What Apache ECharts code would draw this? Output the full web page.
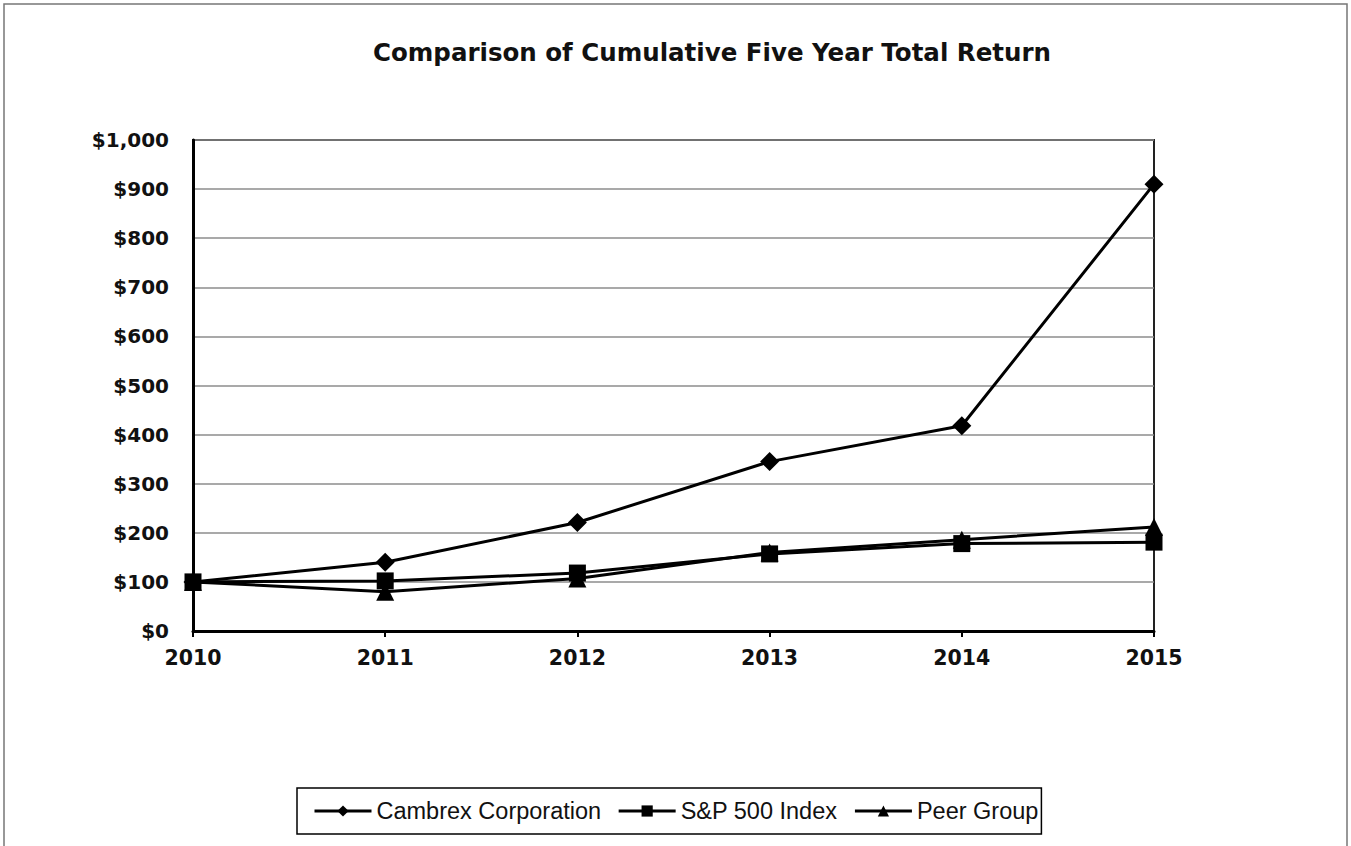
<!DOCTYPE html>
<html>
<head>
<meta charset="utf-8">
<script src="https://cdn.jsdelivr.net/npm/echarts@6/dist/echarts.min.js"></script>
<style>
html,body{margin:0;padding:0;background:#fff;}
#c{width:1351px;height:846px;}
</style>
</head>
<body>
<div id="c"></div>
<script>
const years = ['2010','2011','2012','2013','2014','2015'];
const cambrex = [100, 140, 221, 345, 418, 910];
const sp500 = [100, 102, 118, 157, 178, 181];
const peer = [100, 80, 107, 160, 186, 212];
const seriesNames = ['Cambrex Corporation', 'S&P 500 Index', 'Peer Group'];
const titleText = 'Comparison of Cumulative Five Year Total Return';

const chart = echarts.init(document.getElementById('c'), null, {renderer: 'svg'});
const FONT = 'DejaVu Sans';
function mkSeries(name, data, symbol, size) {
  return {
    name: name, type: 'line', data: data,
    symbol: symbol, symbolSize: size,
    lineStyle: {color: '#000', width: 3},
    itemStyle: {color: '#000'},
    emphasis: {disabled: true},
    animation: false
  };
}
chart.setOption({
  backgroundColor: '#fff',
  animation: false,
  title: {
    text: titleText,
    left: 368, top: 35,
    textStyle: {fontFamily: FONT, fontSize: 24.5, fontWeight: 'bold', color: '#111'}
  },
  graphic: [{
    type: 'rect', shape: {x: 4, y: 4, width: 1343, height: 850},
    style: {fill: 'none', stroke: '#777', lineWidth: 1.5}, silent: true
  }],
  legend: {
    left: 297, top: 788,
    padding: [11, 3, 11, 16],
    itemWidth: 57, itemHeight: 14, itemGap: 16,
    borderColor: '#000', borderWidth: 1.5,
    lineStyle: {width: 3},
    textStyle: {fontFamily: 'Liberation Sans', fontSize: 23.5, color: '#111'},
    data: seriesNames
  },
  grid: {
    left: 193, right: 197, top: 140, bottom: 215,
    show: true, borderColor: '#222', borderWidth: 2
  },
  xAxis: {
    type: 'category', data: years, boundaryGap: false,
    axisLine: {lineStyle: {color: '#000', width: 3}},
    axisTick: {show: true, length: 6, lineStyle: {color: '#000', width: 2}},
    axisLabel: {fontFamily: FONT, fontSize: 20.5, fontWeight: 'bold', color: '#111', margin: 16},
    splitLine: {show: false}
  },
  yAxis: {
    type: 'value', min: 0, max: 1000, interval: 100,
    axisLine: {show: true, lineStyle: {color: '#000', width: 3}},
    axisTick: {show: false},
    axisLabel: {
      fontFamily: FONT, fontSize: 20, fontWeight: 'bold', color: '#111', margin: 24,
      formatter: function (v) { return '$' + v.toLocaleString('en-US'); }
    },
    splitLine: {lineStyle: {color: '#8c8c8c', width: 1.5}}
  },
  series: [
    mkSeries(seriesNames[0], cambrex, 'diamond', 19),
    mkSeries(seriesNames[1], sp500, 'rect', 17),
    mkSeries(seriesNames[2], peer, 'triangle', 18)
  ]
});
</script>
</body>
</html>
